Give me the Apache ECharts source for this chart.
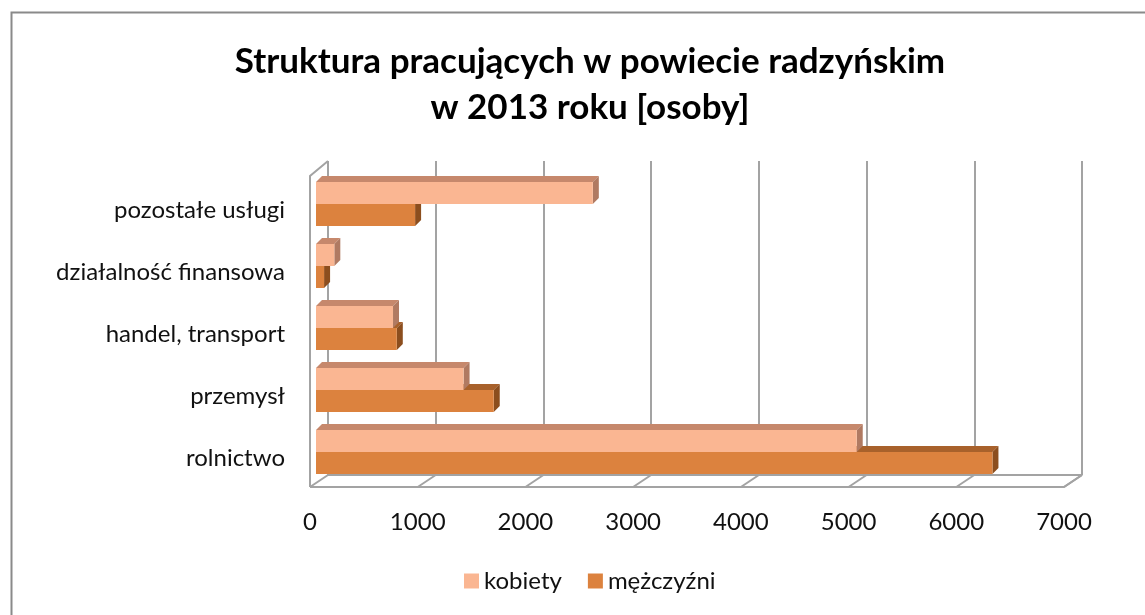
<!DOCTYPE html>
<html><head><meta charset="utf-8">
<script src="https://cdn.jsdelivr.net/npm/echarts@6/dist/echarts.min.js"></script>
<style>html,body{margin:0;padding:0;background:#fff}#c{width:1145px;height:615px}</style>
</head><body><div id="c"></div>
<script>
var categories = ['rolnictwo', 'przemysł', 'handel, transport', 'działalność finansowa', 'pozostałe usługi'];
var kobiety = [5020, 1370, 715, 170, 2570];
var mezczyzni = [6280, 1650, 750, 75, 920];
var xTicks = [0, 1000, 2000, 3000, 4000, 5000, 6000, 7000];
var seriesNames = ['kobiety', 'mężczyźni'];

var FONT = 'Lato, "Open Sans", sans-serif';
var BAR_H = 22, DEPTH = 6;
var colK = {front: '#FAB692', top: '#C6886C', side: '#B07A62'};
var colM = {front: '#DC823E', top: '#A8612B', side: '#8C4E1E'};

function render(upper, col) {
  return function (params, api) {
    var v = api.value(0), c = api.value(1);
    var p0 = api.coord([0, c]), p1 = api.coord([v, c]);
    var yTop = upper ? p0[1] - BAR_H : p0[1];
    var yBot = yTop + BAR_H;
    var x0 = p0[0], x1 = p1[0], d = DEPTH;
    return {
      type: 'group',
      children: [
        {type: 'polygon', shape: {points: [[x0, yTop], [x1, yTop], [x1 + d, yTop - d], [x0 + d, yTop - d]]}, style: {fill: col.top}},
        {type: 'polygon', shape: {points: [[x1, yTop], [x1 + d, yTop - d], [x1 + d, yBot - d], [x1, yBot]]}, style: {fill: col.side}},
        {type: 'rect', shape: {x: x0, y: yTop, width: x1 - x0, height: BAR_H}, style: {fill: col.front}}
      ]
    };
  };
}

var chart = echarts.init(document.getElementById('c'));
var kData = kobiety.map(function (v, i) { return [v, i]; });
var mData = mezczyzni.map(function (v, i) { return [v, i]; });

var option = {
  animation: false,
  title: {
    text: 'Struktura pracujących w powiecie radzyńskim\nw 2013 roku [osoby]',
    left: 585, top: 34, textAlign: 'center',
    textStyle: {fontFamily: FONT, fontWeight: 'bold', fontSize: 35, lineHeight: 46, color: '#000'}
  },
  legend: {
    data: seriesNames,
    left: 459, top: 564,
    itemWidth: 15, itemHeight: 15, itemGap: 26, icon: 'rect',
    textStyle: {fontFamily: FONT, fontSize: 24, color: '#111'}
  },
  grid: [
    {left: 316, top: 173, width: 754, height: 310},
    {left: 328, top: 161, width: 754, height: 314},
    {left: 310, top: 179, width: 754, height: 310}
  ],
  xAxis: [
    {gridIndex: 0, type: 'value', min: 0, max: 7000, interval: 1000, show: false},
    {gridIndex: 1, type: 'value', min: 0, max: 7000, interval: 1000,
      axisLine: {show: false}, axisTick: {show: false}, axisLabel: {show: false},
      splitLine: {show: true, lineStyle: {color: '#A3A3A3', width: 2}}},
    {gridIndex: 2, type: 'value', min: 0, max: 7000, interval: 1000,
      axisLine: {show: false}, axisTick: {show: false}, splitLine: {show: false},
      axisLabel: {margin: 21, fontFamily: FONT, fontSize: 24, color: '#111',
        formatter: function (v) { return String(v); }}}
  ],
  yAxis: [
    {gridIndex: 0, type: 'category', data: categories, show: false},
    {gridIndex: 1, type: 'category', data: categories, show: false},
    {gridIndex: 2, type: 'category', data: categories,
      axisLine: {show: false}, axisTick: {show: false}, splitLine: {show: false},
      axisLabel: {margin: 25, fontFamily: FONT, fontSize: 24, color: '#111'}}
  ],
  series: [
    {name: 'mężczyźni', type: 'custom', xAxisIndex: 0, yAxisIndex: 0, data: mData,
      renderItem: render(false, colM), itemStyle: {color: colM.front}, encode: {x: 0, y: 1}},
    {name: 'kobiety', type: 'custom', xAxisIndex: 0, yAxisIndex: 0, data: kData,
      renderItem: render(true, colK), itemStyle: {color: colK.front}, encode: {x: 0, y: 1}}
  ]
};
chart.setOption(option);

// decorative 3D box frame (floor, left wall, outer border) from axis scales
var FRONT_Y = 487, BACK_Y = 475, WALL_TOP_FRONT = 176, WALL_TOP_BACK = 161;
var lineStyle = {stroke: '#A3A3A3', lineWidth: 2};
var g = [];
g.push({type: 'rect', left: 9, top: 10, shape: {width: 1160, height: 640}, style: {fill: 'none', stroke: '#8A8A8A', lineWidth: 2}, z: 0});
var fx0 = chart.convertToPixel({xAxisIndex: 2}, 0), fx1 = chart.convertToPixel({xAxisIndex: 2}, 7000);
var bx0 = chart.convertToPixel({xAxisIndex: 1}, 0), bx1 = chart.convertToPixel({xAxisIndex: 1}, 7000);
g.push({type: 'polyline', shape: {points: [[fx0, FRONT_Y], [fx1, FRONT_Y], [bx1, BACK_Y]]}, style: lineStyle, z: 1});
g.push({type: 'line', shape: {x1: bx0, y1: BACK_Y, x2: bx1, y2: BACK_Y}, style: lineStyle, z: 1});
g.push({type: 'polyline', shape: {points: [[fx0, FRONT_Y], [fx0, WALL_TOP_FRONT], [bx0, WALL_TOP_BACK]]}, style: lineStyle, z: 1});
xTicks.forEach(function (t) {
  var a = chart.convertToPixel({xAxisIndex: 2}, t), b = chart.convertToPixel({xAxisIndex: 1}, t);
  g.push({type: 'line', shape: {x1: a, y1: FRONT_Y, x2: b, y2: BACK_Y}, style: lineStyle, z: 1});
});
chart.setOption({graphic: g});
</script>
</body></html>
